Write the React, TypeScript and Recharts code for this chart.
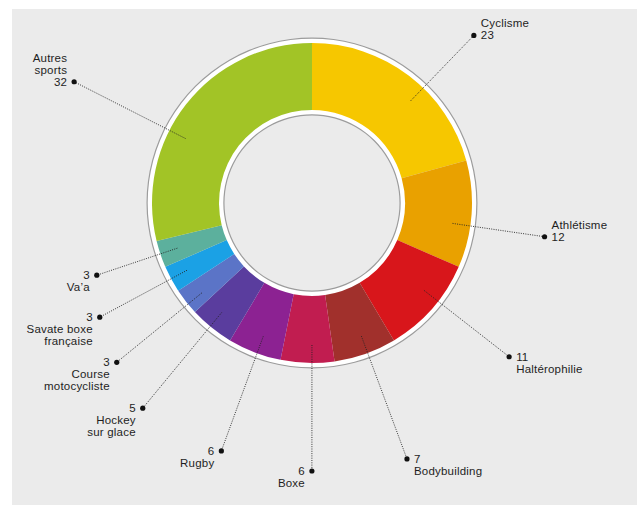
import { PieChart, Pie, Cell } from "recharts";

const SPORTS = [
  "Cyclisme",
  "Athlétisme",
  "Haltérophilie",
  "Bodybuilding",
  "Boxe",
  "Rugby",
  "Hockey\nsur glace",
  "Course\nmotocycliste",
  "Savate boxe\nfrançaise",
  "Va’a",
  "Autres\nsports"
];

const COUNTS = [23, 12, 11, 7, 6, 6, 5, 3, 3, 3, 32];

const COLORS = [
  "#f6c700",
  "#e9a100",
  "#d8161b",
  "#a1302c",
  "#c11d50",
  "#8c2292",
  "#5a3d9e",
  "#5b74c7",
  "#1ba1e5",
  "#5cb09d",
  "#a2c426"
];

// label placement (polar, relative to each slice's middle)
const ANGLE_SHIFT = [6.7, 4.2, -3.4, -0.9, -1.6, -1, 0.6, -1.1, 0.1, 0.1, -11.1];
const DOT_RADIUS = [233, 235, 250, 273, 268, 264, 266, 252, 241, 227, 267];
const NAME_ABOVE = [true, true, false, false, false, false, false, false, false, false, true];

const data = SPORTS.map((name, i) => ({ name, value: COUNTS[i] }));
const ring = [{ name: "ring", value: 1 }];

const RAD = Math.PI / 180;
const FONT = "'Liberation Sans', Arial, sans-serif";

const renderLabel = (props: any) => {
  const { cx, cy, midAngle, index } = props;
  const a = (midAngle - ANGLE_SHIFT[index]) * RAD;
  const r = DOT_RADIUS[index];
  const x0 = cx + 142 * Math.cos(a);
  const y0 = cy - 142 * Math.sin(a);
  const x1 = cx + r * Math.cos(a);
  const y1 = cy - r * Math.sin(a);
  const right = x1 > cx;
  const tx = right ? x1 + 7 : x1 - 7;
  const names = SPORTS[index].split("\n");
  const lines = NAME_ABOVE[index]
    ? [...names, String(COUNTS[index])]
    : [String(COUNTS[index]), ...names];
  const numRow = NAME_ABOVE[index] ? lines.length - 1 : 0;
  return (
    <g key={"lbl" + index}>
      <line
        x1={x0}
        y1={y0}
        x2={x1}
        y2={y1}
        stroke="#222"
        strokeWidth={0.9}
        strokeDasharray="1 1.3"
      />
      <circle cx={x1} cy={y1} r={2.6} fill="#111" />
      {lines.map((t, k) => (
        <text
          key={k}
          x={tx}
          y={y1 + 4 + (k - numRow) * 12}
          textAnchor={right ? "start" : "end"}
          fontSize={11.5}
          letterSpacing={0.2}
          fontFamily={FONT}
          fill="#1e1e1e"
        >
          {t}
        </text>
      ))}
    </g>
  );
};

export default function App() {
  return (
    <div style={{ position: "absolute", left: 0, top: 0, width: 640, height: 505, background: "#ffffff" }}>
      <div style={{ position: "absolute", left: 12, top: 9, width: 625, height: 496, background: "#ebebeb" }} />
      <div style={{ position: "absolute", left: 0, top: 0 }}>
        <PieChart width={640} height={505} margin={{ top: 0, right: 0, bottom: 0, left: 0 }}>
          <Pie data={ring} dataKey="value" cx={312} cy={203} innerRadius={159} outerRadius={165.5} startAngle={90} endAngle={-270} fill="#9c9c9c" stroke="none" isAnimationActive={false} />
          <Pie data={ring} dataKey="value" cx={312} cy={203} innerRadius={159} outerRadius={164.3} startAngle={90} endAngle={-270} fill="#ffffff" stroke="none" isAnimationActive={false} />
          <Pie data={ring} dataKey="value" cx={312} cy={203} innerRadius={87.5} outerRadius={94} startAngle={90} endAngle={-270} fill="#9c9c9c" stroke="none" isAnimationActive={false} />
          <Pie data={ring} dataKey="value" cx={312} cy={203} innerRadius={88.7} outerRadius={94} startAngle={90} endAngle={-270} fill="#ffffff" stroke="none" isAnimationActive={false} />
          <Pie
            data={data}
            dataKey="value"
            nameKey="name"
            cx={312}
            cy={203}
            innerRadius={93}
            outerRadius={160}
            startAngle={90}
            endAngle={-270}
            stroke="none"
            label={renderLabel}
            labelLine={false}
            isAnimationActive={false}
          >
            {data.map((_, i) => (
              <Cell key={i} fill={COLORS[i]} />
            ))}
          </Pie>
        </PieChart>
      </div>
    </div>
  );
}
